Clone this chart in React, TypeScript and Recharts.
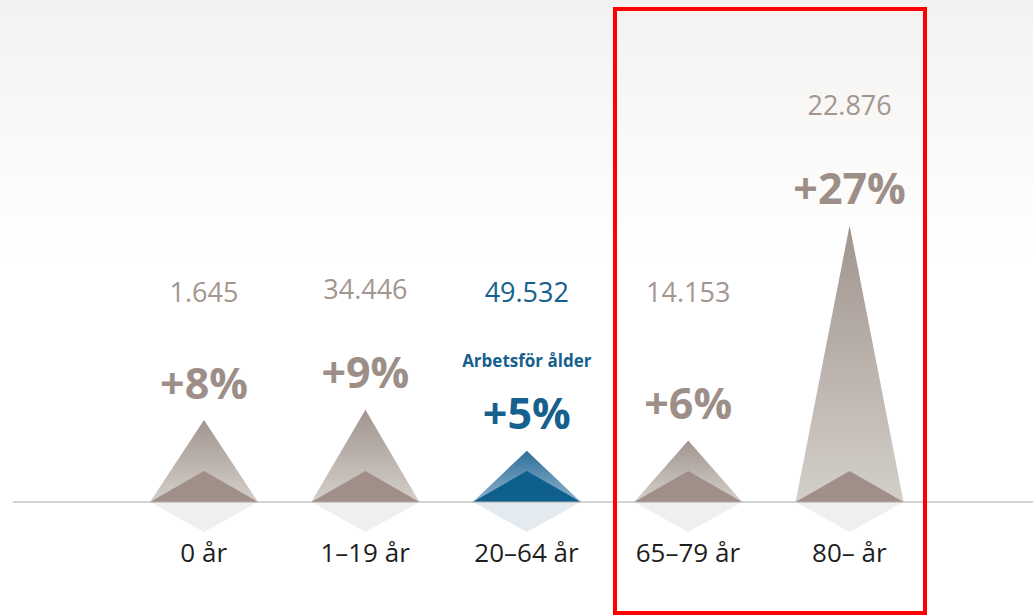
import React from "react";
import { ComposedChart, Bar, XAxis, YAxis } from "recharts";

// Befolkningsförändring per åldersgrupp
const categories = ["0 år", "1–19 år", "20–64 år", "65–79 år", "80– år"];
const growth = [8, 9, 5, 6, 27];
const population = ["1.645", "34.446", "49.532", "14.153", "22.876"];
const notes = ["", "", "Arbetsför ålder", "", ""];
const highlighted = [false, false, true, false, false];

const data = categories.map((name, i) => ({
  name,
  growth: growth[i],
  population: population[i],
  note: notes[i],
  blue: highlighted[i],
}));

const FONT = "'Open Sans', 'Noto Sans', sans-serif";
const GREY_TEXT = "#a3968f";
const BLUE_TEXT = "#16608e";

function Peak(props: any) {
  const { x, y, width, height, payload, index } = props;
  const base = y + height;
  const cx = x + width / 2;
  const ppu = height / payload.growth; // px per percent
  const blue = payload.blue;
  const gid = `peak-grad-${index}`;
  const textColor = blue ? BLUE_TEXT : GREY_TEXT;
  const valueY = Math.min(base - 20.5 * ppu, y - 121);
  return (
    <g>
      <defs>
        <linearGradient id={gid} x1="0" y1="0" x2="0" y2="1">
          <stop offset="0%" stopColor={blue ? "#2f6f9a" : "#a1948e"} />
          <stop offset="100%" stopColor={blue ? "#8cb2cb" : "#d4cfca"} />
        </linearGradient>
      </defs>
      <polygon
        points={`${x},${base} ${cx},${base + 30} ${x + width},${base}`}
        fill={blue ? "#e3ebf1" : "#f0efee"}
      />
      <polygon
        points={`${x},${base} ${cx},${y} ${x + width},${base}`}
        fill={`url(#${gid})`}
      />
      <polygon
        points={`${x},${base} ${cx},${base - 31} ${x + width},${base}`}
        fill={blue ? "#0e5e8e" : "#a08f88"}
      />
      <text
        x={cx}
        y={y - 38}
        textAnchor="middle"
        dominantBaseline="central"
        fontFamily={FONT}
        fontWeight={700}
        fontSize={43}
        fill={blue ? BLUE_TEXT : "#9d8f88"}
      >
        +{payload.growth}%
      </text>
      {payload.note && (
        <text
          x={cx}
          y={y - 90}
          textAnchor="middle"
          dominantBaseline="central"
          fontFamily={FONT}
          fontWeight={700}
          fontSize={17}
          fill={BLUE_TEXT}
        >
          {payload.note}
        </text>
      )}
      <text
        x={cx}
        y={valueY}
        textAnchor="middle"
        dominantBaseline="central"
        fontFamily={FONT}
        fontSize={27}
        fill={textColor}
      >
        {payload.population}
      </text>
    </g>
  );
}

export default function App() {
  return (
    <div
      style={{
        position: "absolute",
        left: 0,
        top: 0,
        width: 1033,
        height: 615,
        background: "linear-gradient(#f3f2f0 0%, #ffffff 42%)",
        overflow: "hidden",
      }}
    >
      <ComposedChart
        width={1033}
        height={615}
        data={data}
        margin={{ top: 0, right: 0, bottom: 0, left: 13 }}
      >
        <YAxis hide domain={[0, 49]} />
        <XAxis
          dataKey="name"
          height={113}
          padding={{ left: 110, right: 103 }}
          tickLine={false}
          axisLine={{ stroke: "#aaaaaa", strokeWidth: 1.2 }}
          tickMargin={36}
          tick={{ fontSize: 26, fill: "#1e1e1e", fontFamily: FONT }}
          interval={0}
        />
        <Bar
          dataKey="growth"
          barSize={108}
          shape={<Peak />}
          isAnimationActive={false}
        />
      </ComposedChart>
      <div
        style={{
          position: "absolute",
          left: 613,
          top: 7,
          width: 306,
          height: 600,
          border: "4px solid #ff0000",
          pointerEvents: "none",
        }}
      />
    </div>
  );
}
